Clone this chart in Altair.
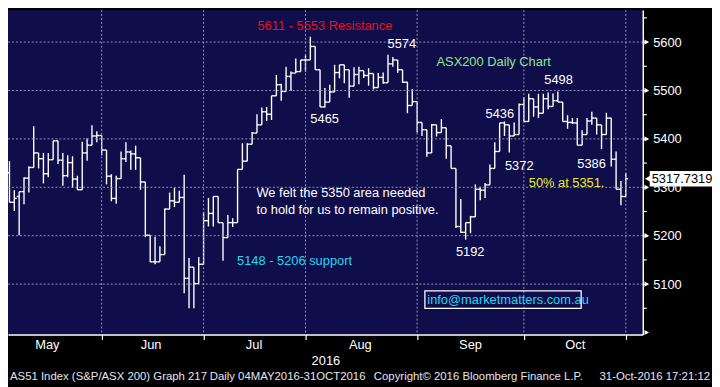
import altair as alt
import pandas as pd

# ---- OHLC data (AS51, 04 May 2016 - 31 Oct 2016, one bar per trading day) ----
opens = [5330, 5269, 5281, 5291, 5319, 5341, 5371, 5359, 5328, 5357,
         5396, 5356, 5324, 5351, 5317, 5295, 5371, 5387, 5406, 5407,
         5377, 5323, 5277, 5318, 5359, 5373, 5369, 5361, 5311, 5201,
         5146, 5146, 5161, 5255, 5272, 5269, 5279, 5112, 5135, 5101,
         5141, 5231, 5246, 5281, 5227, 5196, 5227, 5227, 5337, 5354,
         5389, 5412, 5429, 5456, 5451, 5489, 5512, 5498, 5529, 5536,
         5539, 5563, 5563, 5591, 5543, 5466, 5476, 5497, 5537, 5553,
         5543, 5509, 5533, 5541, 5531, 5535, 5506, 5527, 5516, 5555,
         5563, 5543, 5517, 5469, 5477, 5434, 5419, 5371, 5429, 5413,
         5423, 5386, 5339, 5219, 5207, 5227, 5239, 5296, 5294, 5305,
         5339, 5374, 5433, 5429, 5406, 5409, 5471, 5436, 5483, 5466,
         5453, 5483, 5467, 5479, 5476, 5436, 5434, 5433, 5387, 5409,
         5437, 5443, 5429, 5409, 5443, 5358, 5296, 5281]
highs = [5354, 5294, 5291, 5321, 5343, 5426, 5371, 5371, 5371, 5396,
         5396, 5371, 5366, 5364, 5324, 5394, 5401, 5428, 5416, 5407,
         5377, 5327, 5324, 5374, 5393, 5376, 5386, 5361, 5311, 5201,
         5198, 5178, 5256, 5289, 5299, 5293, 5326, 5154, 5135, 5156,
         5249, 5278, 5281, 5281, 5227, 5243, 5236, 5337, 5391, 5391,
         5414, 5451, 5465, 5466, 5489, 5532, 5514, 5549, 5539, 5566,
         5563, 5573, 5611, 5591, 5543, 5505, 5512, 5553, 5553, 5553,
         5543, 5548, 5549, 5541, 5546, 5535, 5536, 5537, 5574, 5569,
         5563, 5543, 5518, 5503, 5477, 5434, 5419, 5431, 5429, 5441,
         5423, 5386, 5339, 5276, 5227, 5241, 5306, 5301, 5309, 5347,
         5393, 5433, 5436, 5429, 5434, 5473, 5486, 5493, 5483, 5493,
         5493, 5496, 5494, 5498, 5476, 5449, 5443, 5443, 5418, 5443,
         5456, 5443, 5429, 5454, 5443, 5374, 5313, 5329]
lows = [5269, 5251, 5201, 5265, 5289, 5341, 5339, 5308, 5321, 5357,
        5348, 5303, 5321, 5299, 5295, 5295, 5355, 5387, 5393, 5366,
        5306, 5271, 5266, 5317, 5352, 5336, 5336, 5295, 5197, 5145,
        5141, 5146, 5161, 5255, 5259, 5269, 5081, 5050, 5050, 5101,
        5141, 5219, 5219, 5227, 5148, 5196, 5218, 5227, 5337, 5354,
        5389, 5412, 5429, 5437, 5439, 5489, 5479, 5498, 5499, 5536,
        5539, 5539, 5563, 5543, 5466, 5465, 5476, 5497, 5525, 5515,
        5485, 5509, 5513, 5526, 5510, 5502, 5506, 5514, 5516, 5549,
        5536, 5516, 5453, 5469, 5413, 5406, 5363, 5371, 5405, 5413,
        5359, 5339, 5216, 5206, 5192, 5205, 5239, 5273, 5278, 5305,
        5339, 5374, 5406, 5372, 5406, 5409, 5436, 5436, 5446, 5443,
        5453, 5461, 5467, 5476, 5436, 5421, 5431, 5387, 5387, 5409,
        5429, 5409, 5379, 5409, 5343, 5296, 5263, 5281]
closes = [5269, 5277, 5291, 5319, 5341, 5371, 5359, 5328, 5357, 5396,
          5356, 5324, 5351, 5317, 5295, 5371, 5387, 5406, 5407, 5377,
          5323, 5277, 5318, 5359, 5373, 5369, 5361, 5311, 5201, 5146,
          5146, 5161, 5255, 5272, 5269, 5279, 5112, 5135, 5101, 5141,
          5231, 5246, 5281, 5227, 5196, 5227, 5227, 5337, 5354, 5389,
          5412, 5429, 5456, 5451, 5489, 5512, 5498, 5529, 5536, 5539,
          5563, 5563, 5591, 5543, 5466, 5476, 5497, 5537, 5553, 5543,
          5509, 5533, 5541, 5531, 5535, 5506, 5527, 5516, 5555, 5563,
          5543, 5517, 5469, 5477, 5434, 5419, 5371, 5429, 5413, 5423,
          5386, 5339, 5219, 5207, 5227, 5239, 5296, 5294, 5305, 5339,
          5374, 5433, 5429, 5406, 5409, 5471, 5436, 5483, 5466, 5453,
          5483, 5467, 5479, 5476, 5436, 5434, 5433, 5387, 5409, 5437,
          5443, 5429, 5409, 5443, 5358, 5296, 5281, 5317.7319]
last_price = 5317.7319
last_label = "5317.7319"

# ---- axes / grid ----
month_names = ["May", "Jun", "Jul", "Aug", "Sep", "Oct"]
month_label_pos = [7.8, 29.2, 50.4, 72.3, 95.0, 116.6]
month_end_idx = [19, 40, 61, 84, 106, 127]
year_label = "2016"
year_label_pos = 65.2
y_grid = [5100, 5200, 5300, 5400, 5500, 5600]
y_minor = [5050, 5150, 5250, 5350, 5450, 5550, 5650]
y_markers = [5000, 5100, 5200, 5300, 5400, 5500, 5600]

# ---- annotations ----
ann_text = ["5611 - 5553", "Resistance", "5574", "5465", "ASX200 Daily Chart",
            "5498", "5436", "5372", "5386", "50% at 5351.",
            "We felt the 5350 area needed", "to hold for us to remain positive.",
            "5148 - 5206 support", "5192", "info@marketmatters.com.au"]
ann_x = [51.1, 65.8, 77.9, 62.0, 88.0, 110.2, 98.1, 102.1, 117.0, 107.0,
         50.9, 50.9, 46.9, 92.0, 86.1]
ann_y = [5634, 5634, 5596, 5440, 5558, 5522, 5452, 5344, 5348, 5308,
         5288, 5254, 5148, 5166, 5068]
ann_color = ["#e8101e", "#e8101e", "white", "white", "#8ee88e",
             "white", "white", "white", "white", "#ecec1c",
             "white", "white", "#22d6f2", "white", "#22d6f2"]
box_x = [85.6]
box_x2 = [117.8]
box_y = [5086]
box_y2 = [5050]

footer_left_text = ["AS51 Index (S&P/ASX 200) Graph 217", "Daily 04MAY2016-31OCT2016",
                    "Copyright\u00a9 2016 Bloomberg Finance L.P."]
footer_left_px = [2, 204, 370]
footer_right_text = ["31-Oct-2016 17:21:12"]
footer_right_px = [710]

W, H = 642, 328
X_DOMAIN = [-0.3, 130.5]
Y_DOMAIN = [4996, 5666]
NAVY = "#0f0d4a"
GRID = "#9494b0"
FONT = "Liberation Sans"

bars = pd.DataFrame({"day": list(range(len(closes))), "open": opens,
                     "high": highs, "low": lows, "close": closes})

xs = alt.Scale(domain=X_DOMAIN, nice=False, zero=False)
ys = alt.Scale(domain=Y_DOMAIN, nice=False, zero=False)

x_axis = alt.Axis(orient="bottom", values=month_end_idx, labels=False, grid=False,
                  domainColor="white", domainWidth=1.5, tickColor="white",
                  tickSize=5, tickWidth=1.2, title=None, zindex=1)
y_axis = alt.Axis(orient="right", values=y_grid, grid=False, format="d",
                  domainColor="white", domainWidth=1.5, tickColor="white",
                  tickSize=5, tickWidth=1.2, labelColor="white", labelFont=FONT,
                  labelFontSize=13, labelPadding=5, labelOverlap=False,
                  labelFlush=False, title=None, zindex=1)


def X(field):
    return alt.X(field, scale=xs)


def Y(field):
    return alt.Y(field, scale=ys)


hgrid = alt.Chart(pd.DataFrame({"v": y_grid})).mark_rule(
    color=GRID, strokeDash=[2, 2], strokeWidth=1
).encode(y=Y("v:Q"))
vgrid = alt.Chart(pd.DataFrame({"d": month_end_idx})).mark_rule(
    color=GRID, strokeDash=[2, 2], strokeWidth=1
).encode(x=X("d:Q"))

base = alt.Chart(bars)
hl = base.mark_rule(color="white", strokeWidth=1.4).encode(
    x=alt.X("day:Q", scale=xs, axis=x_axis),
    y=alt.Y("high:Q", scale=ys, axis=y_axis),
    y2="low:Q",
)
op = base.transform_calculate(xl="datum.day - 0.5").mark_rule(
    color="white", strokeWidth=1.4).encode(
    x=X("xl:Q"), x2="day:Q", y=Y("open:Q"),
)
cl = base.transform_calculate(xr="datum.day + 0.5").mark_rule(
    color="white", strokeWidth=1.4).encode(
    x=X("day:Q"), x2="xr:Q", y=Y("close:Q"),
)

ann = alt.Chart(pd.DataFrame({"t": ann_text, "x": ann_x, "y": ann_y, "c": ann_color})).mark_text(
    align="left", baseline="middle", font=FONT, fontSize=13
).encode(
    x=X("x:Q"), y=Y("y:Q"), text="t:N",
    color=alt.Color("c:N", scale=None),
)
box = alt.Chart(pd.DataFrame({"x": box_x, "x2": box_x2, "y": box_y, "y2": box_y2})).mark_rect(
    fillOpacity=0, stroke="white", strokeWidth=1.3
).encode(x=X("x:Q"), x2="x2:Q", y=Y("y:Q"), y2="y2:Q")

months = alt.Chart(pd.DataFrame({"m": month_names, "p": month_label_pos})).mark_text(
    align="center", baseline="middle", font=FONT, fontSize=13, color="white"
).encode(x=X("p:Q"), y=alt.value(H + 11), text="m:N")
year = alt.Chart(pd.DataFrame({"m": [year_label], "p": [year_label_pos]})).mark_text(
    align="center", baseline="middle", font=FONT, fontSize=13, color="white"
).encode(x=X("p:Q"), y=alt.value(H + 26.5), text="m:N")

footer_l = alt.Chart(pd.DataFrame({"t": footer_left_text, "px": footer_left_px})).mark_text(
    align="left", baseline="middle", font=FONT, fontSize=11.5, color="#e4e4ee"
).encode(x=alt.X("px:Q", scale=None), y=alt.value(H + 43), text="t:N")
footer_r = alt.Chart(pd.DataFrame({"t": footer_right_text, "px": footer_right_px})).mark_text(
    align="right", baseline="middle", font=FONT, fontSize=11.5, color="#e4e4ee"
).encode(x=alt.X("px:Q", scale=None), y=alt.value(H + 43), text="t:N")

minor = alt.Chart(pd.DataFrame({"v": y_minor})).mark_rule(
    color="white", strokeWidth=1.2
).encode(x=alt.value(W), x2=alt.value(W + 4), y=Y("v:Q"))
markers = alt.Chart(pd.DataFrame({"v": y_markers})).mark_point(
    shape="triangle-right", filled=True, color="white", size=28, opacity=1
).encode(x=alt.value(W + 4), y=Y("v:Q"))

lp = pd.DataFrame({"v": [last_price], "t": [last_label]})
lp_box = alt.Chart(lp).transform_calculate(
    top="datum.v + 16", bot="datum.v - 16").mark_rect(color="white").encode(
    x=alt.value(W + 7), x2=alt.value(W + 70), y=Y("top:Q"), y2="bot:Q",
)
lp_arrow = alt.Chart(lp).mark_point(
    shape="triangle-left", filled=True, color="white", size=45, opacity=1
).encode(x=alt.value(W + 5), y=Y("v:Q"))
lp_text = alt.Chart(lp).mark_text(
    align="left", baseline="middle", font=FONT, fontSize=13, color="black"
).encode(x=alt.value(W + 9), y=Y("v:Q"), text="t:N")

chart = alt.layer(
    hl, hgrid, vgrid, op, cl, ann, box, months, year, footer_l, footer_r,
    minor, markers, lp_box, lp_arrow, lp_text
).properties(
    width=W, height=H,
    autosize=alt.AutoSizeParams(type="none"),
    padding={"left": 0, "top": 0, "right": 70, "bottom": 51},
).configure(
    background="black"
).configure_view(
    fill=NAVY, strokeWidth=0
)

chart.save("out.html", embed_options={"renderer": "svg", "actions": False})
